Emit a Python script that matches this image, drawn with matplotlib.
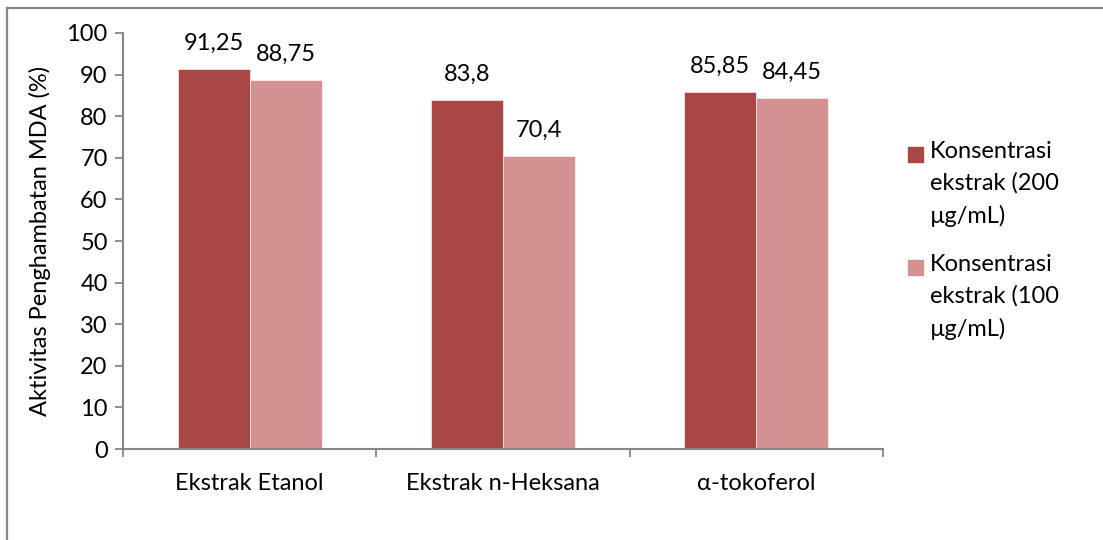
import numpy as np
import matplotlib
matplotlib.use('Agg')
import matplotlib.pyplot as plt
from matplotlib.patches import Rectangle

plt.rcParams['font.family'] = ['Lato', 'DejaVu Sans']

# data
categories = ['Ekstrak Etanol', 'Ekstrak n-Heksana', 'α-tokoferol']
conc_200 = [91.25, 83.8, 85.85]
conc_100 = [88.75, 70.4, 84.45]
series_names = ['Konsentrasi\nekstrak (200\nµg/mL)', 'Konsentrasi\nekstrak (100\nµg/mL)']
y_ticks = [0, 10, 20, 30, 40, 50, 60, 70, 80, 90, 100]

dark = '#A94745'
light = '#D39191'
axis_col = '#868686'
fs = 17


def fmt(v):
    s = '{:g}'.format(v)
    return s.replace('.', ',')


fig = plt.figure(figsize=(11.03, 5.40), dpi=100)
ax = fig.add_axes([0.1115, 0.1685, 0.689, 0.7704])

x = np.arange(len(categories))
w = 0.284
b1 = ax.bar(x - w / 2, conc_200, w, color=dark, edgecolor='white', linewidth=0.4)
b2 = ax.bar(x + w / 2, conc_100, w, color=light, edgecolor='white', linewidth=0.4)

# value labels above the bars
for bars, vals in [(b1, conc_200), (b2, conc_100)]:
    for rect, v in zip(bars, vals):
        ax.annotate(fmt(v), (rect.get_x() + rect.get_width() / 2, v),
                    xytext=(0, 11), textcoords='offset points',
                    ha='center', va='bottom', fontsize=fs)

ax.set_xlim(-0.5, len(categories) - 0.5)
ax.set_ylim(0, 100)
ax.set_yticks(y_ticks)
ax.set_yticklabels([str(t) for t in y_ticks], fontsize=fs)
ax.set_xticks(x)
ax.set_xticklabels(categories, fontsize=fs)
ax.set_xticks(np.arange(-0.5, len(categories)), minor=True)
ax.tick_params(axis='x', which='major', length=0, pad=17)
ax.tick_params(axis='x', which='minor', length=6, color=axis_col, width=1.3)
ax.tick_params(axis='y', length=6, color=axis_col, width=1.3, pad=5)

for s in ['top', 'right']:
    ax.spines[s].set_visible(False)
for s in ['left', 'bottom']:
    ax.spines[s].set_color(axis_col)
    ax.spines[s].set_linewidth(1.5)

ax.set_ylabel('Aktivitas Penghambatan MDA (%)', fontsize=fs)
ax.yaxis.set_label_coords(-0.095, 0.5)

# legend (drawn by hand, square aligned with first text line)
leg_x = 908 / 1103
txt_x = 930 / 1103
for i, (name, col) in enumerate(zip(series_names, [dark, light])):
    y_first = 1 - (155 + 113 * i) / 540
    fig.patches.append(Rectangle((leg_x, y_first - 7.5 / 540), 15 / 1103, 15 / 540,
                                 transform=fig.transFigure, color=col))
    fig.text(txt_x, y_first + 14 / 540, name, fontsize=fs, va='top', ha='left',
             linespacing=1.6)

# chart border (right and bottom edges cut off in the original)
fig.patches.append(Rectangle((7 / 1103, -0.05), 1.2, 1 - 8 / 540 + 0.05,
                             transform=fig.transFigure, fill=False,
                             edgecolor='#888888', linewidth=1.6))

fig.savefig('out.png', dpi=100)
